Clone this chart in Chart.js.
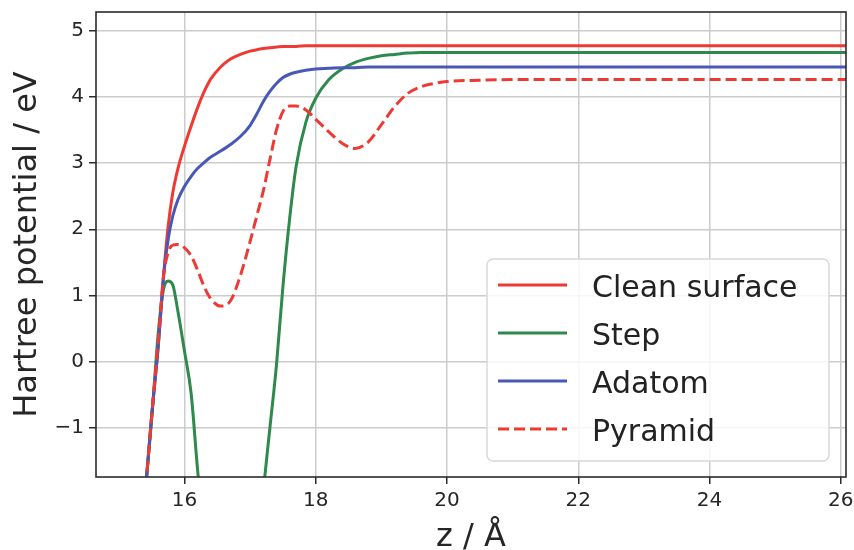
<!DOCTYPE html>
<html>
<head>
<meta charset="utf-8">
<script src="https://cdn.jsdelivr.net/npm/chart.js@4/dist/chart.umd.min.js"></script>
<style>
  html, body { margin: 0; padding: 0; background: #ffffff; }
  #wrap { width: 854px; height: 550px; }
</style>
</head>
<body>
<div id="wrap"><canvas id="c" width="854" height="550"></canvas></div>
<script>
// ---- data ----
const zGrid = [15.3, 15.42, 15.5, 15.6, 15.68, 15.75, 15.82, 15.9, 16.0, 16.1,
               16.2, 16.3, 16.4, 16.55, 16.7, 16.85, 17.0, 17.1, 17.2, 17.3,
               17.4, 17.5, 17.6, 17.7, 17.85, 18.0, 18.2, 18.4, 18.6, 18.8,
               19.0, 19.2, 19.4, 19.6, 19.8, 20.0, 20.5, 21.0, 22.0, 24.0, 26.1];

const cleanSurface = [-3.1, -1.75, -0.8, 0.25, 1.3, 2.05, 2.55, 2.92, 3.26, 3.56,
                      3.84, 4.08, 4.27, 4.45, 4.57, 4.64, 4.69, 4.71, 4.73, 4.74,
                      4.75, 4.76, 4.76, 4.76, 4.77, 4.77, 4.77, 4.77, 4.77, 4.77,
                      4.77, 4.77, 4.77, 4.77, 4.77, 4.77, 4.77, 4.77, 4.77, 4.77, 4.77];

const step = [-3.1, -1.75, -0.85, 0.45, 1.1, 1.22, 1.16, 0.75, 0.15, -0.48,
              -1.65, -2.6, -3.5, -4.5, -5.0, -5.0, -4.2, -3.0, -1.95, -1.0,
              -0.05, 1.15, 2.15, 2.95, 3.62, 3.98, 4.26, 4.42, 4.52, 4.58,
              4.62, 4.64, 4.66, 4.67, 4.67, 4.67, 4.67, 4.67, 4.67, 4.67, 4.67];

const adatom = [-3.1, -1.75, -0.8, 0.25, 1.3, 1.85, 2.2, 2.45, 2.65, 2.8,
                2.92, 3.01, 3.09, 3.18, 3.28, 3.4, 3.57, 3.74, 3.93, 4.08,
                4.2, 4.29, 4.34, 4.37, 4.4, 4.42, 4.43, 4.44, 4.44, 4.45,
                4.45, 4.45, 4.45, 4.45, 4.45, 4.45, 4.45, 4.45, 4.45, 4.45, 4.45];

const pyramid = [-3.1, -1.75, -0.8, 0.35, 1.3, 1.65, 1.76, 1.77, 1.72, 1.6,
                 1.38, 1.13, 0.95, 0.84, 0.92, 1.3, 1.82, 2.2, 2.58, 3.05,
                 3.5, 3.78, 3.86, 3.86, 3.8, 3.66, 3.47, 3.3, 3.22, 3.32,
                 3.58, 3.85, 4.05, 4.15, 4.2, 4.23, 4.25, 4.26, 4.26, 4.26, 4.26];

const seriesNames = ['Clean surface', 'Step', 'Adatom', 'Pyramid'];
const xTickStep = 2;
const yTickStep = 1;

// ---- chart ----
const FONT = "'DejaVu Sans', sans-serif";
const toPts = vals => zGrid.map((z, i) => ({ x: z, y: vals[i] }));

const frameAndLegend = {
  id: 'frameAndLegend',
  afterDatasetsDraw(chart) {
    const { ctx, chartArea: a } = chart;
    ctx.save();
    // axes frame (all four spines)
    ctx.strokeStyle = '#2b2b2b';
    ctx.lineWidth = 1.6;
    ctx.strokeRect(a.left, a.top, a.right - a.left, a.bottom - a.top);

    // legend box
    const bx = 487, by = 259, bw = 342, bh = 202, r = 6;
    ctx.beginPath();
    ctx.moveTo(bx + r, by);
    ctx.arcTo(bx + bw, by, bx + bw, by + bh, r);
    ctx.arcTo(bx + bw, by + bh, bx, by + bh, r);
    ctx.arcTo(bx, by + bh, bx, by, r);
    ctx.arcTo(bx, by, bx + bw, by, r);
    ctx.closePath();
    ctx.fillStyle = 'rgba(255,255,255,0.82)';
    ctx.fill();
    ctx.strokeStyle = '#d9d9d9';
    ctx.lineWidth = 1.5;
    ctx.stroke();

    chart.data.datasets.forEach((ds, i) => {
      const ly = 285 + i * 48;
      ctx.beginPath();
      ctx.setLineDash(ds.borderDash || []);
      ctx.strokeStyle = ds.borderColor;
      ctx.lineWidth = ds.borderWidth;
      ctx.moveTo(498, ly);
      ctx.lineTo(567, ly);
      ctx.stroke();
      ctx.setLineDash([]);
      ctx.fillStyle = '#222222';
      ctx.font = '30px ' + FONT;
      ctx.textBaseline = 'alphabetic';
      ctx.textAlign = 'left';
      ctx.fillText(ds.label, 592, ly + 12);
    });
    ctx.restore();
  }
};

new Chart(document.getElementById('c'), {
  type: 'line',
  data: {
    datasets: [
      { label: seriesNames[0], data: toPts(cleanSurface), borderColor: '#ee3a34', borderWidth: 3, order: 3 },
      { label: seriesNames[1], data: toPts(step), borderColor: '#2e8a4c', borderWidth: 3, order: 2 },
      { label: seriesNames[2], data: toPts(adatom), borderColor: '#4858b6', borderWidth: 3, order: 1 },
      { label: seriesNames[3], data: toPts(pyramid), borderColor: '#ee3a34', borderWidth: 3, borderDash: [11, 5], order: 0 }
    ]
  },
  options: {
    responsive: false,
    animation: false,
    devicePixelRatio: 1,
    layout: { padding: { top: 12, right: 8, left: 0, bottom: 0 } },
    elements: {
      point: { radius: 0, hoverRadius: 0 },
      line: { cubicInterpolationMode: 'monotone', fill: false, borderCapStyle: 'butt' }
    },
    datasets: { line: { clip: 0 } },
    plugins: { legend: { display: false }, tooltip: { enabled: false } },
    scales: {
      x: {
        type: 'linear',
        min: 14.65,
        max: 26.08,
        afterFit: s => { s.height = 73; s.paddingLeft = 0; s.paddingRight = 0; },
        ticks: {
          stepSize: xTickStep,
          includeBounds: false,
          font: { family: FONT, size: 20 },
          color: '#262626',
          padding: 5,
          maxRotation: 0,
          autoSkip: false
        },
        grid: { color: '#cccccc', lineWidth: 1.5, tickColor: '#2b2b2b', tickLength: 7, tickWidth: 1.5 },
        border: { display: false },
        title: {
          display: true,
          text: 'z / Å',
          font: { family: FONT, size: 32, lineHeight: 0.8 },
          color: '#262626',
          padding: { top: 0, bottom: 0 }
        }
      },
      y: {
        type: 'linear',
        min: -1.74,
        max: 5.28,
        afterFit: s => { s.width = 96; s.paddingTop = 0; s.paddingBottom = 0; },
        ticks: {
          stepSize: yTickStep,
          includeBounds: false,
          font: { family: FONT, size: 20 },
          color: '#262626',
          padding: 5,
          callback: v => String(v).replace('-', '\u2212')
        },
        grid: { color: '#cccccc', lineWidth: 1.5, tickColor: '#2b2b2b', tickLength: 7, tickWidth: 1.5 },
        border: { display: false },
        title: {
          display: true,
          text: 'Hartree potential / eV',
          font: { family: FONT, size: 32, lineHeight: 0.8 },
          color: '#262626',
          padding: { top: 15, bottom: 0 }
        }
      }
    }
  },
  plugins: [frameAndLegend]
});
</script>
</body>
</html>
